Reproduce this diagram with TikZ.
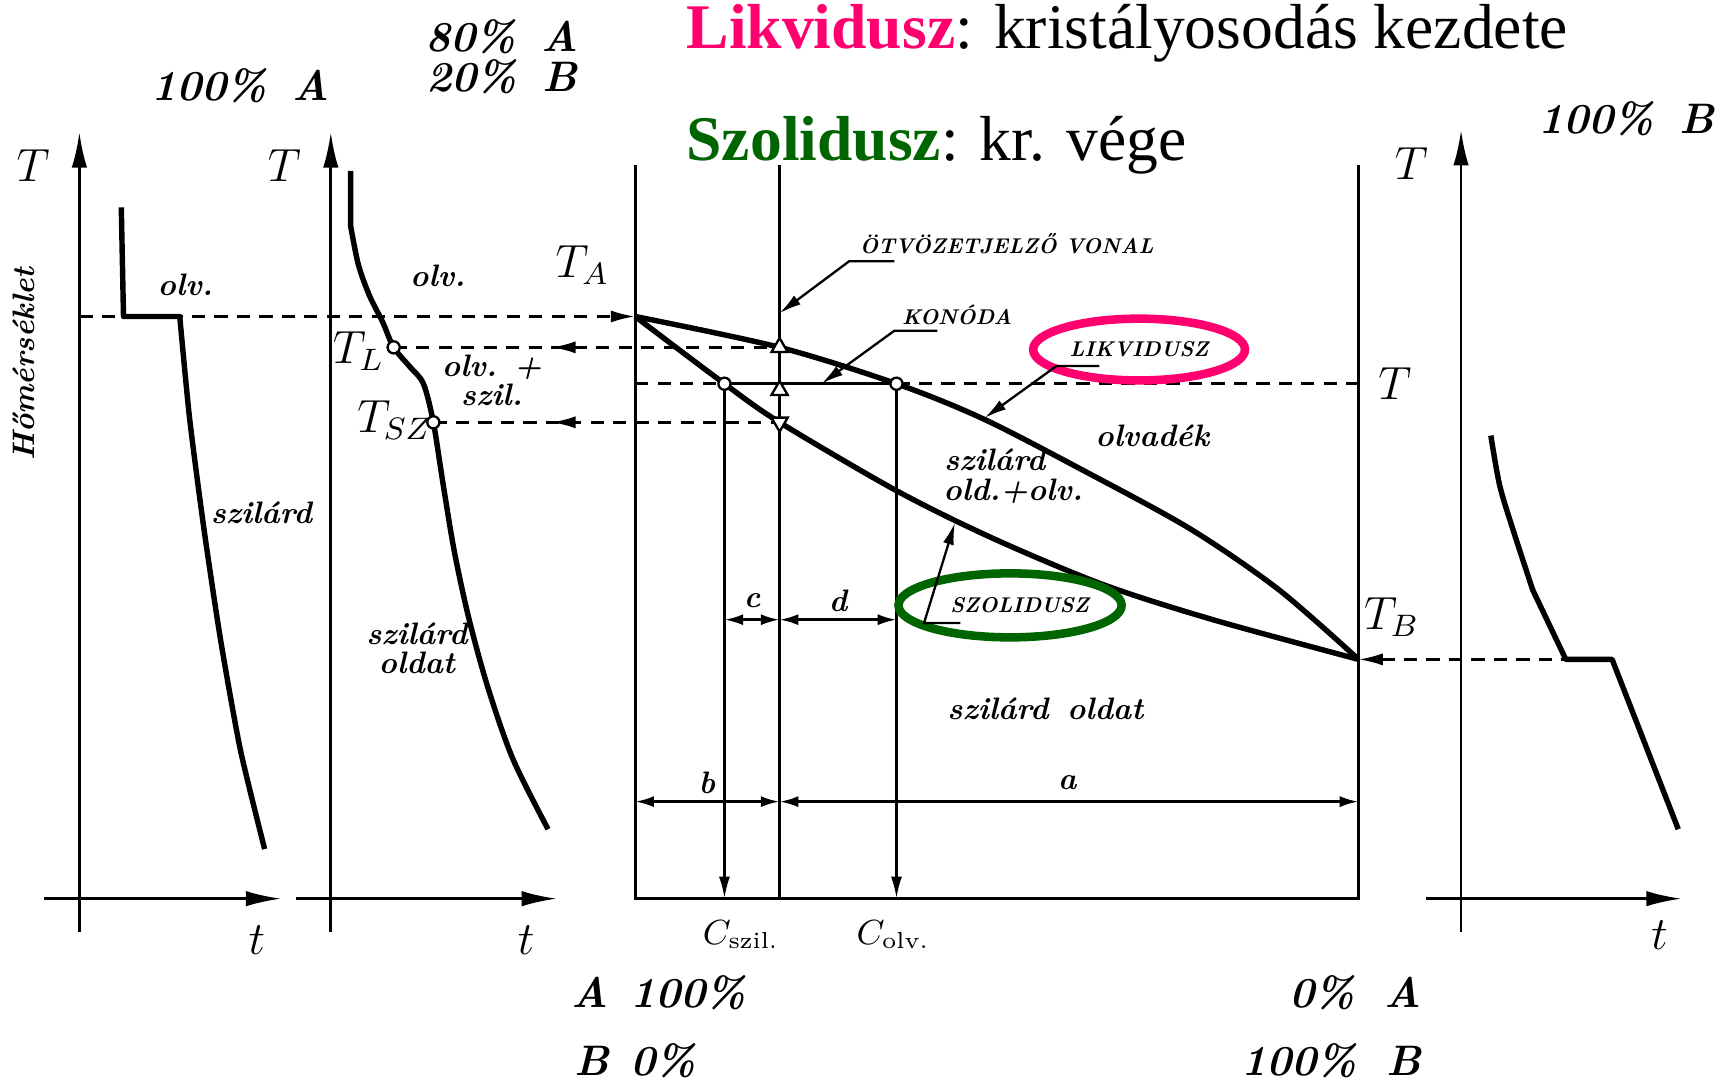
\RequirePackage{fix-cm}
\documentclass[tikz,border=0pt]{standalone}
\usepackage{amsmath}
\usepackage{fontspec}
\usepackage{xcolor}
\usetikzlibrary{arrows.meta, shapes.geometric}
\newfontfamily\timesfont{Liberation Serif}
\definecolor{likvpink}{RGB}{255,0,110}
\definecolor{szolgreen}{RGB}{0,100,0}

\begin{document}
\begin{tikzpicture}[
	x=0.01cm, y=-0.01cm,
	axis/.style={line width=0.7pt, -{Latex[length=3.2mm,width=1.4mm]}},
	frameline/.style={line width=0.7pt},
	curve/.style={line width=1.4pt, line join=round},
	dashline/.style={line width=0.7pt, dash pattern=on 3.4pt off 2.4pt},
	leader/.style={line width=0.6pt, -{Latex[length=2mm,width=1mm]}},
	dimline/.style={line width=0.7pt, {Latex[length=1.7mm,width=1mm]}-{Latex[length=1.7mm,width=1mm]}},
	lbl/.style={font=\fontsize{8}{7.6}\selectfont\bfseries\itshape, inner sep=0pt, align=center},
	caps/.style={font=\fontsize{5.5}{6}\selectfont\bfseries\itshape, inner sep=0pt},
	pct/.style={font=\fontsize{11}{12}\selectfont\bfseries\itshape, inner sep=0pt},
	tlbl/.style={font=\fontsize{12}{13}\selectfont, inner sep=0pt},
	ptcircle/.style={circle, draw, fill=white, line width=0.6pt, minimum size=0.11cm, inner sep=0pt},
	pttri/.style={regular polygon, regular polygon sides=3, draw, fill=white, line width=0.6pt, minimum size=0.17cm, inner sep=0pt},
	headline/.style={font={\timesfont\fontsize{16.4}{19}\selectfont}, inner sep=0pt, anchor=west}
]
	\useasboundingbox (0,0) rectangle (1568,979);

	% feliratok
	\node[headline] (likvText) at (622,30) {\textcolor{likvpink}{\textbf{Likvidusz}}: kristályosodás kezdete};
	\node[headline] (szolText) at (622,132) {\textcolor{szolgreen}{\textbf{Szolidusz}}: kr. vége};
	\node[pct] (pctA) at (218,78) {100\%\hspace{0.6em}A};
	\node[pct] (pctAB1) at (455,33) {80\%\hspace{0.6em}A};
	\node[pct] (pctAB2) at (455,70) {20\%\hspace{0.6em}B};
	\node[pct] (pctB) at (1475,108) {100\%\hspace{0.6em}B};

	% 100% A
	\draw[axis] (72,845) -- (72,120);
	\draw[axis] (40,815) -- (255,815);
	\node[tlbl] (T1) at (30,150) {$T$};
	\node[tlbl] (t1) at (233,853) {$t$};
	\node[lbl, rotate=90] (homerseklet) at (22,330) {Hőmérséklet};
	\draw[curve] (110,188) -- (112,287) -- (163,287) -- plot[smooth, tension=0.4] coordinates {(163,287) (172,380) (185,480) (200,580) (218,680) (240,770)};
	\node[lbl] (olv1) at (168,258) {olv.};
	\node[lbl] (szilard1) at (237,465) {szilárd};

	% 80% A - 20% B
	\draw[axis] (300,845) -- (300,120);
	\draw[axis] (268,815) -- (505,815);
	\node[tlbl] (T2) at (258,150) {$T$};
	\node[tlbl] (t2) at (477,853) {$t$};
	\draw[curve] (318,155) -- (318,205) -- plot[smooth, tension=0.5] coordinates {(318,205) (325,240) (335,268) (347,292) (357,315) (372,333) (384,348) (393,383) (402,440) (412,500) (425,560) (442,622) (465,688) (497,752)};
	\coordinate (TL) at (357,315);
	\coordinate (TSZ) at (393,383);
	\draw[dashline] (TL) -- (707,315);
	\draw[dashline] (TSZ) -- (707,383);
	\draw[line width=0.7pt, -{Latex[length=2.2mm,width=1.1mm]}] (520,315) -- (500,315);
	\draw[line width=0.7pt, -{Latex[length=2.2mm,width=1.1mm]}] (520,383) -- (500,383);
	\node[ptcircle] (TLpt) at (TL) {};
	\node[ptcircle] (TSZpt) at (TSZ) {};
	\node[tlbl] (TLlbl) at (325,318) {$T_L$};
	\node[tlbl] (TSZlbl) at (358,381) {$T_{SZ}$};
	\node[lbl] (olv2) at (397,250) {olv.};
	\node[lbl] (olvszil) at (446,345) {olv. +\\szil.};
	\node[lbl] (szoldat2) at (378,588) {szilárd\\oldat};

	% fazisdiagram
	\coordinate (TA) at (576,287);
	\coordinate (TB) at (1232,598);
	\coordinate (cSz) at (657,348);
	\coordinate (cOlv) at (813,348);
	\draw[frameline] (576,150) -- (576,815) -- (1232,815) -- (1232,150);
	\draw[frameline] (707,150) -- (707,815);
	\draw[dashline, -{Latex[length=2.2mm,width=1.1mm]}] (72,287) -- (TA);
	\draw[dashline, {Latex[length=2.2mm,width=1.1mm]}-] (TB) -- (1420,598);
	\draw[curve] plot[smooth, tension=0.5] coordinates {(576,287) (707,315) (813,348) (892,380) (985,428) (1080,480) (1160,535) (1232,598)};
	\draw[curve] plot[smooth, tension=0.5] coordinates {(576,287) (657,348) (707,383) (813,445) (900,488) (1000,530) (1100,562) (1232,598)};
	\draw[dashline] (576,348) -- (cSz);
	\draw[frameline] (cSz) -- (cOlv);
	\draw[dashline] (cOlv) -- (1232,348);
	\draw[frameline, -{Latex[length=2mm,width=1mm]}] (cSz) -- (657,815);
	\draw[frameline, -{Latex[length=2mm,width=1mm]}] (cOlv) -- (813,815);
	\node[ptcircle] (cSzpt) at (cSz) {};
	\node[ptcircle] (cOlvpt) at (cOlv) {};
	\node[pttri] (liqpt) at (707,315) {};
	\node[pttri] (konpt) at (707,354) {};
	\node[pttri, shape border rotate=180] (solpt) at (707,383) {};
	\node[tlbl] (TAlbl) at (528,240) {$T_A$};
	\node[tlbl] (TBlbl) at (1262,560) {$T_B$};
	\node[tlbl] (Tr) at (1265,348) {$T$};

	% mutatok
	\node[caps] (otvozet) at (913,221) {ÖTVÖZETJELZŐ VONAL};
	\draw[leader] (811,237) -- (770,237) -- (707,284);
	\node[caps] (konoda) at (868,286) {KONÓDA};
	\draw[leader] (850,300) -- (811,300) -- (745,348);
	\node[ellipse, draw=likvpink, line width=2.2pt, minimum width=1.92cm, minimum height=0.56cm, caps] (likvEll) at (1033,317) {LIKVIDUSZ};
	\draw[leader] (997,332) -- (958,332) -- (893,379);
	\node[ellipse, draw=szolgreen, line width=2.2pt, minimum width=1.92cm, minimum height=0.58cm, caps] (szolEll) at (916,549) {\hspace{0.9em}SZOLIDUSZ};
	\draw[leader] (871,565) -- (838,565) -- (866,474);

	\node[lbl] (olvadek) at (1045,395) {olvadék};
	\node[lbl] (szoldolv) at (902,432) {szilárd\\\hspace{1.2em}old.+olv.};
	\node[lbl] (szoldat) at (948,643) {szilárd\hspace{0.6em}oldat};

	% meretvonalak
	\draw[dimline] (657,562) -- (707,562);
	\draw[dimline] (707,562) -- (813,562);
	\draw[dimline] (576,727) -- (707,727);
	\draw[dimline] (707,727) -- (1232,727);
	\node[lbl] (clbl) at (682,545) {c};
	\node[lbl] (dlbl) at (760,545) {d};
	\node[lbl] (blbl) at (641,710) {b};
	\node[lbl] (albl) at (968,710) {a};
	\node[tlbl, font=\fontsize{9}{10}\selectfont] (cszil) at (672,848) {$C_{\text{szil.}}$};
	\node[tlbl, font=\fontsize{9}{10}\selectfont] (colv) at (810,848) {$C_{\text{olv.}}$};

	\node[pct, anchor=west] (botA1) at (518,900) {A\hspace{0.5em}100\%};
	\node[pct, anchor=west] (botB1) at (520,962) {B\hspace{0.5em}0\%};
	\node[pct, anchor=east] (botA2) at (1290,900) {0\%\hspace{0.7em}A};
	\node[pct, anchor=east] (botB2) at (1290,962) {100\%\hspace{0.7em}B};

	% 100% B
	\draw[axis] (1325,845) -- (1325,118);
	\draw[axis] (1293,815) -- (1525,815);
	\node[tlbl] (T3) at (1280,148) {$T$};
	\node[tlbl] (t3) at (1505,848) {$t$};
	\draw[curve] plot[smooth, tension=0.5] coordinates {(1352,395) (1360,440) (1372,480) (1390,535)} -- (1420,598) -- (1462,598) -- (1522,752);
\end{tikzpicture}
\end{document}
